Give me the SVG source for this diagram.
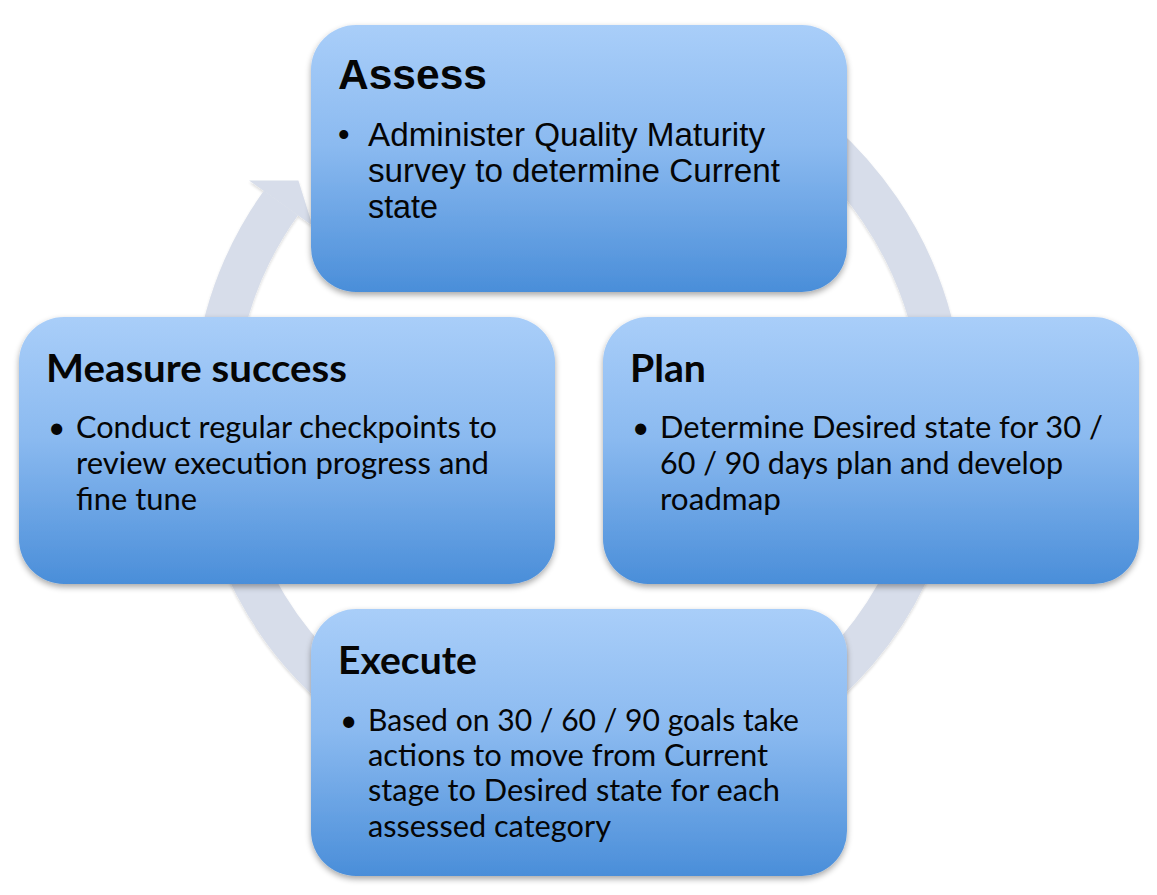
<svg xmlns="http://www.w3.org/2000/svg" width="1157" height="895" viewBox="0 0 1157 895">
  <defs>
    <linearGradient id="boxGrad" x1="0" y1="0" x2="0" y2="1">
      <stop offset="0" stop-color="#A9CEF9"/>
      <stop offset="0.45" stop-color="#8BBAF0"/>
      <stop offset="1" stop-color="#4A8ED9"/>
    </linearGradient>
    <filter id="boxShadow" x="-10%" y="-10%" width="120%" height="125%">
      <feGaussianBlur in="SourceAlpha" stdDeviation="3"/>
      <feOffset dx="0" dy="3" result="b"/>
      <feComponentTransfer><feFuncA type="linear" slope="0.35"/></feComponentTransfer>
      <feMerge><feMergeNode/><feMergeNode in="SourceGraphic"/></feMerge>
    </filter>
    <filter id="ringShadow" x="-10%" y="-10%" width="120%" height="120%">
      <feGaussianBlur in="SourceAlpha" stdDeviation="1.5"/>
      <feOffset dx="0" dy="1.5"/>
      <feComponentTransfer><feFuncA type="linear" slope="0.15"/></feComponentTransfer>
      <feMerge><feMergeNode/><feMergeNode in="SourceGraphic"/></feMerge>
    </filter>
  </defs>
  <style>
    .box { fill: url(#boxGrad); filter: url(#boxShadow); }
    .ttlA { font-family: "Liberation Sans", Arial, sans-serif; font-weight: bold; font-size: 42px; fill: #050505; }
    .bodyA { font-family: "Liberation Sans", Arial, sans-serif; font-size: 33px; fill: #050505; }
    .ttl { font-family: Lato, "Open Sans", sans-serif; font-weight: bold; font-size: 38px; fill: #050505; }
    .body { font-family: Lato, "Open Sans", sans-serif; font-size: 30px; fill: #050505; }
  </style>
  <rect width="1157" height="895" fill="#FFFFFF"/>

  <g id="connectors" filter="url(#ringShadow)">
    <path d="M 395.5 98.9 A 365 365 0 1 1 280.9 203.0" fill="none" stroke="#D7DDEA" stroke-width="42"/>
    <polygon points="249.1,180.4 298.4,180.4 312.6,225.7" fill="#D7DDEA"/>
  </g>

  <g id="node-assess">
    <rect class="box" x="311" y="25" width="536" height="267" rx="45" ry="45"/>
    <text class="ttlA" x="338" y="89" textLength="149" lengthAdjust="spacingAndGlyphs">Assess</text>
    <text class="bodyA" x="338" y="146">•</text>
    <text class="bodyA" x="368" y="146" textLength="397" lengthAdjust="spacingAndGlyphs">Administer Quality Maturity</text>
    <text class="bodyA" x="368" y="182" textLength="412" lengthAdjust="spacingAndGlyphs">survey to determine Current</text>
    <text class="bodyA" x="368" y="218" textLength="70" lengthAdjust="spacingAndGlyphs">state</text>
  </g>

  <g id="node-measure">
    <rect class="box" x="19" y="317" width="536" height="267" rx="45" ry="45"/>
    <text class="ttl" x="46" y="382" textLength="301" lengthAdjust="spacingAndGlyphs">Measure success</text>
    <text class="body" x="48" y="438">•</text>
    <text class="body" x="76" y="438" textLength="421" lengthAdjust="spacingAndGlyphs">Conduct regular checkpoints to</text>
    <text class="body" x="76" y="474" textLength="413" lengthAdjust="spacingAndGlyphs">review execution progress and</text>
    <text class="body" x="76" y="510" textLength="121" lengthAdjust="spacingAndGlyphs">fine tune</text>
  </g>

  <g id="node-plan">
    <rect class="box" x="603" y="317" width="536" height="267" rx="45" ry="45"/>
    <text class="ttl" x="630" y="382" textLength="76" lengthAdjust="spacingAndGlyphs">Plan</text>
    <text class="body" x="632" y="438">•</text>
    <text class="body" x="660" y="438" textLength="443" lengthAdjust="spacingAndGlyphs">Determine Desired state for 30 /</text>
    <text class="body" x="660" y="474" textLength="403" lengthAdjust="spacingAndGlyphs">60 / 90 days plan and develop</text>
    <text class="body" x="660" y="510" textLength="121" lengthAdjust="spacingAndGlyphs">roadmap</text>
  </g>

  <g id="node-execute">
    <rect class="box" x="311" y="609" width="536" height="267" rx="45" ry="45"/>
    <text class="ttl" x="338" y="674" textLength="139" lengthAdjust="spacingAndGlyphs">Execute</text>
    <text class="body" x="340" y="731">•</text>
    <text class="body" x="368" y="731" textLength="431" lengthAdjust="spacingAndGlyphs">Based on 30 / 60 / 90 goals take</text>
    <text class="body" x="368" y="766" textLength="400" lengthAdjust="spacingAndGlyphs">actions to move from Current</text>
    <text class="body" x="368" y="801" textLength="412" lengthAdjust="spacingAndGlyphs">stage to Desired state for each</text>
    <text class="body" x="368" y="837" textLength="243" lengthAdjust="spacingAndGlyphs">assessed category</text>
  </g>
</svg>
